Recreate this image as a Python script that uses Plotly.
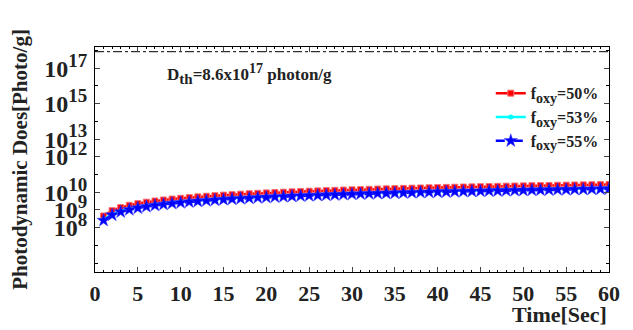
import plotly.graph_objects as go

time_s = list(range(1, 61))

# photodynamic dose, in units of 1e9 photon/g
dose_50_e9 = [0.46,0.92,1.38,1.84,2.30,2.76,3.22,3.68,4.14,4.60,5.06,5.52,5.98,6.44,6.90,7.36,7.82,8.28,8.74,9.20,
              9.66,10.12,10.58,11.04,11.50,11.96,12.42,12.88,13.34,13.80,14.26,14.72,15.18,15.64,16.10,16.56,17.02,17.48,17.94,18.40,
              18.86,19.32,19.78,20.24,20.70,21.16,21.62,22.08,22.54,23.00,23.46,23.92,24.38,24.84,25.30,25.76,26.22,26.68,27.14,27.60]
dose_53_e9 = [0.29,0.58,0.87,1.16,1.45,1.74,2.03,2.32,2.61,2.90,3.19,3.48,3.77,4.06,4.35,4.64,4.93,5.22,5.51,5.80,
              6.09,6.38,6.67,6.96,7.25,7.54,7.83,8.12,8.41,8.70,8.99,9.28,9.57,9.86,10.15,10.44,10.73,11.02,11.31,11.60,
              11.89,12.18,12.47,12.76,13.05,13.34,13.63,13.92,14.21,14.50,14.79,15.08,15.37,15.66,15.95,16.24,16.53,16.82,17.11,17.40]
dose_55_e9 = [0.26,0.52,0.78,1.04,1.30,1.56,1.82,2.08,2.34,2.60,2.86,3.12,3.38,3.64,3.90,4.16,4.42,4.68,4.94,5.20,
              5.46,5.72,5.98,6.24,6.50,6.76,7.02,7.28,7.54,7.80,8.06,8.32,8.58,8.84,9.10,9.36,9.62,9.88,10.14,10.40,
              10.66,10.92,11.18,11.44,11.70,11.96,12.22,12.48,12.74,13.00,13.26,13.52,13.78,14.04,14.30,14.56,14.82,15.08,15.34,15.60]

d_threshold = 8.6e17
threshold_x = [0, 60]

x_ticks = [0, 5, 10, 15, 20, 25, 30, 35, 40, 45, 50, 55, 60]
y_tickvals = [1e8, 1e9, 1e10, 1e12, 1e13, 1e15, 1e17]
y_exponents = ["8", "9", "10", "12", "13", "15", "17"]

SERIF = "Liberation Serif, Times New Roman, serif"
INK = "#222222"

def sup(s, px):
    return "<sup><span style='font-size:%dpx'>%s</span></sup>" % (px, s)

def sub(s, px):
    return "<sub><span style='font-size:%dpx'>%s</span></sub>" % (px, s)

y_ticktext = ["<b>10" + sup(e, 19) + "</b>" for e in y_exponents]

fig = go.Figure()

fig.add_trace(go.Scatter(x=threshold_x, y=[d_threshold, d_threshold], mode="lines",
                         line=dict(color="black", width=1, dash="dashdot"), showlegend=False))

fig.add_trace(go.Scatter(x=time_s, y=[v * 1e9 for v in dose_50_e9], mode="lines+markers",
                         name="<b>f" + sub("oxy", 14) + "=50%</b>",
                         line=dict(color="#ff0000", width=2.5),
                         marker=dict(symbol="square", size=6, color="#ff0000",
                                     line=dict(color="#ff7070", width=1))))
fig.add_trace(go.Scatter(x=time_s, y=[v * 1e9 for v in dose_53_e9], mode="lines+markers",
                         name="<b>f" + sub("oxy", 14) + "=53%</b>",
                         line=dict(color="#00ffff", width=2.5),
                         marker=dict(symbol="circle", size=5, color="#00ffff")))
fig.add_trace(go.Scatter(x=time_s, y=[v * 1e9 for v in dose_55_e9], mode="lines+markers",
                         name="<b>f" + sub("oxy", 14) + "=55%</b>",
                         line=dict(color="#0000ff", width=2.5, dash="dashdot"),
                         marker=dict(symbol="star", size=10, color="#0000ff",
                                     line=dict(color="#4040ff", width=0.5))))

fig.add_annotation(x=0.30, y=0.88, xref="paper", yref="paper", showarrow=False,
                   xanchor="center", yanchor="middle",
                   text="<b>D" + sub("th", 15) + "=8.6x10" + sup("17", 14) + " photon/g</b>",
                   font=dict(family=SERIF, size=17, color=INK))

fig.add_annotation(x=1.0, y=-0.19, xref="paper", yref="paper", showarrow=False,
                   xanchor="right", yanchor="middle",
                   text="<b>Time[Sec]</b>",
                   font=dict(family=SERIF, size=22, color=INK))

fig.update_xaxes(range=[0, 60], tickvals=x_ticks, ticks="inside", ticklen=5, mirror="allticks",
                 showline=True, linecolor="black", linewidth=1, showgrid=False, zeroline=False,
                 minor=dict(ticks="inside", ticklen=2, dtick=1, tickcolor="black", showgrid=False),
                 tickfont=dict(family=SERIF, size=22, color=INK, weight="bold"),
                 ticklabelstandoff=2)
fig.update_yaxes(type="log", range=[5.5, 18.2], tickvals=y_tickvals, ticktext=y_ticktext,
                 ticks="inside", ticklen=5, mirror="allticks",
                 showline=True, linecolor="black", linewidth=1, showgrid=False, zeroline=False,
                 minor=dict(ticks="inside", ticklen=3, tickcolor="black", showgrid=False),
                 tickfont=dict(family=SERIF, size=24, color=INK),
                 ticklabelstandoff=2,
                 title=dict(text="<b>Photodynamic Does[Photo/g]</b>",
                            font=dict(family=SERIF, size=21, color=INK), standoff=10))

fig.update_layout(width=633, height=330, margin=dict(l=95, r=24, t=47, b=58),
                  plot_bgcolor="white", paper_bgcolor="white",
                  legend=dict(x=0.77, y=0.87, xanchor="left", yanchor="top",
                              bgcolor="rgba(0,0,0,0)", borderwidth=0,
                              font=dict(family=SERIF, size=16, color=INK),
                              tracegroupgap=0, itemwidth=30))

fig.write_html("out.html")
